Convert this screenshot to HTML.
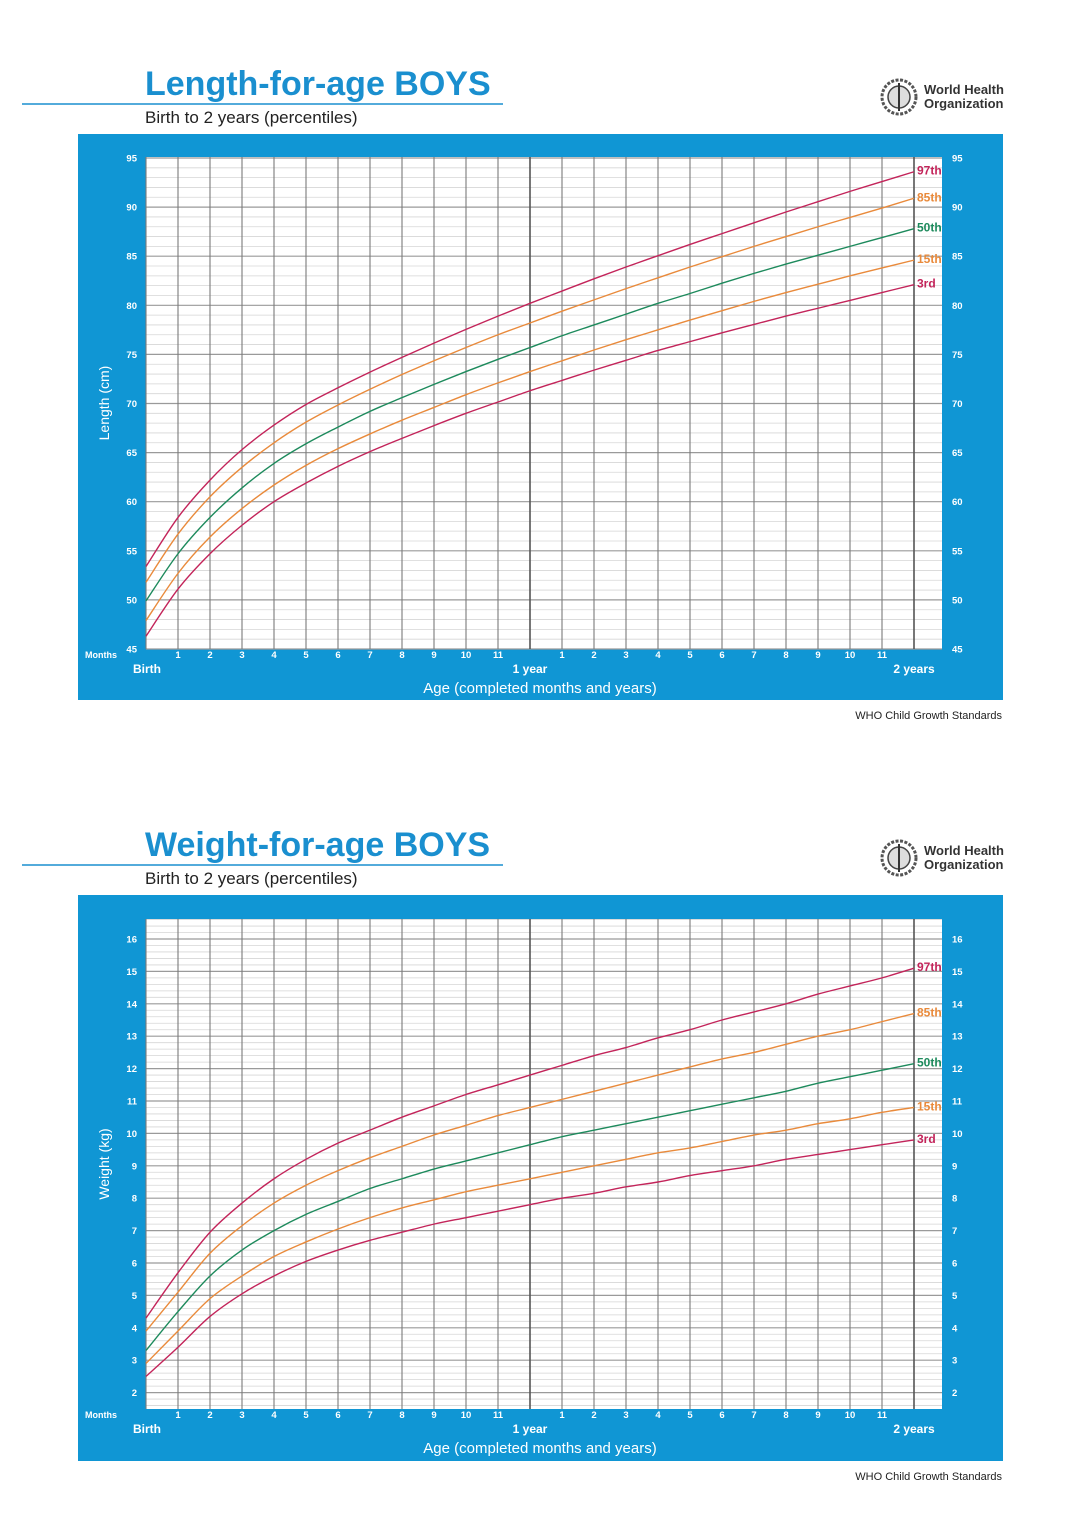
<!DOCTYPE html>
<html><head><meta charset="utf-8"><style>
body{margin:0;background:#fff;}
svg{display:block;font-family:"Liberation Sans",sans-serif;}
</style></head><body>
<svg id="page" width="1080" height="1528" viewBox="0 0 1080 1528"></svg>
<script>
const months = [0,1,2,3,4,5,6,7,8,9,10,11,12,13,14,15,16,17,18,19,20,21,22,23,24];
const percentileNames = ["97th","85th","50th","15th","3rd"];
const len97 = [53.4,58.4,62.2,65.3,67.8,69.9,71.6,73.2,74.7,76.15,77.55,78.9,80.2,81.45,82.7,83.9,85.05,86.2,87.3,88.4,89.5,90.55,91.6,92.6,93.6];
const len85 = [51.8,56.7,60.5,63.5,66.0,68.1,69.85,71.45,72.95,74.35,75.7,77.0,78.2,79.4,80.55,81.7,82.8,83.9,84.95,86.0,87.0,88.0,88.95,89.9,90.9];
const len50 = [49.9,54.7,58.4,61.4,63.9,65.9,67.6,69.2,70.6,71.95,73.25,74.5,75.7,76.9,78.0,79.1,80.2,81.2,82.25,83.25,84.2,85.1,86.0,86.9,87.8];
const len15 = [47.9,52.7,56.4,59.3,61.7,63.7,65.4,66.9,68.3,69.6,70.9,72.1,73.25,74.35,75.45,76.5,77.5,78.5,79.45,80.4,81.3,82.15,83.0,83.8,84.6];
const len3 = [46.3,51.1,54.7,57.6,60.0,61.9,63.6,65.1,66.45,67.75,69.0,70.15,71.3,72.35,73.4,74.4,75.4,76.3,77.2,78.05,78.9,79.7,80.5,81.3,82.1];
const wt97 = [4.3,5.7,6.95,7.85,8.6,9.2,9.7,10.1,10.5,10.85,11.2,11.5,11.8,12.1,12.4,12.65,12.95,13.2,13.5,13.75,14.0,14.3,14.55,14.8,15.1];
const wt85 = [3.9,5.1,6.3,7.15,7.85,8.4,8.85,9.25,9.6,9.95,10.25,10.55,10.8,11.05,11.3,11.55,11.8,12.05,12.3,12.5,12.75,13.0,13.2,13.45,13.7];
const wt50 = [3.3,4.5,5.6,6.4,7.0,7.5,7.9,8.3,8.6,8.9,9.15,9.4,9.65,9.9,10.1,10.3,10.5,10.7,10.9,11.1,11.3,11.55,11.75,11.95,12.15];
const wt15 = [2.9,3.9,4.9,5.6,6.2,6.65,7.05,7.4,7.7,7.95,8.2,8.4,8.6,8.8,9.0,9.2,9.4,9.55,9.75,9.95,10.1,10.3,10.45,10.65,10.8];
const wt3 = [2.5,3.4,4.35,5.05,5.6,6.05,6.4,6.7,6.95,7.2,7.4,7.6,7.8,8.0,8.15,8.35,8.5,8.7,8.85,9.0,9.2,9.35,9.5,9.65,9.8];
const lenTicks = [45,50,55,60,65,70,75,80,85,90,95];
const wtTicks = [2,3,4,5,6,7,8,9,10,11,12,13,14,15,16];
const monthLabels = ["","1","2","3","4","5","6","7","8","9","10","11","","1","2","3","4","5","6","7","8","9","10","11",""];

const NS="http://www.w3.org/2000/svg";
const svg=document.getElementById('page');
const BLUE="#1096d4";
const COLORS=["#c3245a","#e98a3b","#1d8a5c","#e98a3b","#c3245a"];
function mk(tag,attrs,parent,text){const e=document.createElementNS(NS,tag);for(const k in attrs)e.setAttribute(k,attrs[k]);if(text!==undefined)e.textContent=text;(parent||svg).appendChild(e);return e;}

function header(y0,title){
  const t=mk('text',{x:145,y:y0+36,'font-size':34,'font-weight':'bold',fill:'#1a8fcf'},svg,title);
  
  
  const l=mk('line',{x1:22,y1:y0+45,x2:503,y2:y0+45,stroke:'#1a8fcf','stroke-width':1.5});
  
  
  const s=mk('text',{x:145,y:y0+64,'font-size':17,fill:'#222'},svg,'Birth to 2 years (percentiles)');
  
  
  const g=mk('g',{});
  
  
  mk('circle',{cx:899,cy:y0+38,r:17,fill:'none',stroke:'#555','stroke-width':3,'stroke-dasharray':'3 1.5'},g);
  mk('circle',{cx:899,cy:y0+38,r:11,fill:'#ddd',stroke:'#444','stroke-width':1.5},g);
  mk('line',{x1:899,y1:y0+24,x2:899,y2:y0+52,stroke:'#333','stroke-width':2},g);
  mk('text',{x:924,y:y0+35,'font-size':13,'font-weight':'bold',fill:'#333'},g,'World Health');
  mk('text',{x:924,y:y0+49,'font-size':13,'font-weight':'bold',fill:'#333'},g,'Organization');
}

function chart(cfg){
  const {top,ymax,y0px,pxPer,minorStep,ticks,series,ytitle,name}=cfg;
  const g=mk('g',{});
  
  
  const pTop=top, pBot=top+566;
  const panel=mk('rect',{x:78,y:pTop,width:925,height:566,fill:BLUE},g);
  
  
  const X=m=>146+m*32;
  const Y=v=>y0px-(v-ymax)*pxPer;
  const wTop=cfg.whiteTop, wBot=cfg.whiteBot;
  mk('rect',{x:146,y:wTop,width:796,height:wBot-wTop,fill:'#fff'},g);
  const grid=mk('g',{},g);
  
  
  for(let i=Math.round(cfg.gridLo/minorStep);i<=Math.round(cfg.gridHi/minorStep);i++){
    const v=i*minorStep; const y=Y(v);
    if(y<wTop-0.5||y>wBot+0.5)continue;
    const major=ticks.some(t=>Math.abs(t-v)<1e-6);
    mk('line',{x1:146,x2:942,y1:y,y2:y,stroke:major?'#9a9a9a':'#d6d6d6','stroke-width':major?1.2:0.8},grid);
  }
  months.forEach(m=>{
    mk('line',{x1:X(m),x2:X(m),y1:wTop,y2:wBot,stroke:(m===12||m===24)?'#555':'#7a7a7a','stroke-width':(m===12||m===24)?1.6:1.1},grid);
  });
  ticks.forEach(t=>{
    const a=mk('text',{x:137,y:Y(t)+3.5,'font-size':9.5,'font-weight':'bold',fill:'#fff','text-anchor':'end'},g,String(t));
    
    
    const b=mk('text',{x:952,y:Y(t)+3.5,'font-size':9.5,'font-weight':'bold',fill:'#fff'},g,String(t));
    
    
  });
  months.forEach((m,i)=>{
    if(!monthLabels[i])return;
    const t=mk('text',{x:X(m),y:wBot+9,'font-size':9.5,'font-weight':'bold',fill:'#fff','text-anchor':'middle'},g,monthLabels[i]);
    
    
  });
  const mo=mk('text',{x:85,y:wBot+9,'font-size':9,'font-weight':'bold',fill:'#fff'},g,'Months');
  
  
  [[146,'Birth','start',133],[530,'1 year','middle',530],[914,'2 years','middle',914]].forEach(d=>{
    const t=mk('text',{x:d[3],y:wBot+24,'font-size':12,'font-weight':'bold',fill:'#fff','text-anchor':d[2]},g,d[1]);
    
    
  });
  const xt=mk('text',{x:540,y:wBot+44,'font-size':15,fill:'#fff','text-anchor':'middle'},g,'Age (completed months and years)');
  
  
  const yc=(wTop+wBot)/2;
  const yt=mk('text',{x:109,y:yc,'font-size':14,fill:'#fff','text-anchor':'middle',transform:`rotate(-90 109 ${yc})`},g,ytitle);
  
  
  series.forEach((vals,si)=>{
    const pts=vals.map((v,i)=>[X(months[i]),Y(v)]);
    let d=`M${pts[0][0]},${pts[0][1]}`;
    for(let i=0;i<pts.length-1;i++){
      const p0=pts[Math.max(0,i-1)],p1=pts[i],p2=pts[i+1],p3=pts[Math.min(pts.length-1,i+2)];
      const c1=[p1[0]+(p2[0]-p0[0])/6,p1[1]+(p2[1]-p0[1])/6];
      const c2=[p2[0]-(p3[0]-p1[0])/6,p2[1]-(p3[1]-p1[1])/6];
      d+=` C${c1[0]},${c1[1]} ${c2[0]},${c2[1]} ${p2[0]},${p2[1]}`;
    }
    const p=mk('path',{d,fill:'none',stroke:COLORS[si],'stroke-width':1.4},g);
    
    
    const last=pts[pts.length-1];
    const l=mk('text',{x:917,y:last[1]+3,'font-size':12,'font-weight':'bold',fill:COLORS[si]},g,percentileNames[si]);
    
    
  });
  const src=mk('text',{x:1002,y:pBot+19,'font-size':11,fill:'#222','text-anchor':'end'},svg,'WHO Child Growth Standards');
  
  
}

header(59,'Length-for-age BOYS');
chart({name:'length-chart',top:134,ymax:95,y0px:158,pxPer:9.82,minorStep:1,gridLo:45,gridHi:95,
  ticks:lenTicks,whiteTop:157,whiteBot:649,
  series:[len97,len85,len50,len15,len3],ytitle:'Length (cm)'});
header(820,'Weight-for-age BOYS');
chart({name:'weight-chart',top:895,ymax:16,y0px:939,pxPer:32.4,minorStep:0.2,gridLo:1.4,gridHi:16.6,
  ticks:wtTicks,whiteTop:919,whiteBot:1409,
  series:[wt97,wt85,wt50,wt15,wt3],ytitle:'Weight (kg)'});
</script>
</body></html>
